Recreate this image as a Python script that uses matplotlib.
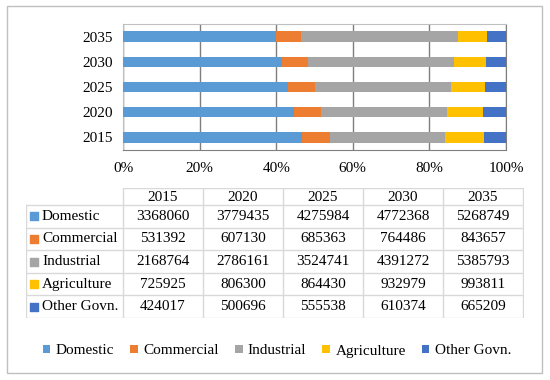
import matplotlib
matplotlib.use("Agg")
import matplotlib.pyplot as plt
import numpy as np

plt.rcParams['font.family'] = ['Liberation Serif', 'DejaVu Serif']

years = ['2015', '2020', '2025', '2030', '2035']
categories = ['Domestic', 'Commercial', 'Industrial', 'Agriculture', 'Other Govn.']
domestic = [3368060, 3779435, 4275984, 4772368, 5268749]
commercial = [531392, 607130, 685363, 764486, 843657]
industrial = [2168764, 2786161, 3524741, 4391272, 5385793]
agriculture = [725925, 806300, 864430, 932979, 993811]
other_govn = [424017, 500696, 555538, 610374, 665209]
colors = ['#5B9BD5', '#ED7D31', '#A5A5A5', '#FFC000', '#4472C4']

series = [domestic, commercial, industrial, agriculture, other_govn]
values = np.array(series, dtype=float)
shares = values / values.sum(axis=0)

W, H = 550, 380
fig = plt.figure(figsize=(5.5, 3.8), dpi=100)

# outer chart border
fig.patches.append(plt.Rectangle((7 / W, 1 - 373 / H), 535 / W, 367 / H,
                                 transform=fig.transFigure, fill=False,
                                 edgecolor='#BFBFBF', linewidth=1.0))

# bar chart
ax = fig.add_axes([123 / W, 1 - 150 / H, 383 / W, 126 / H])
y = np.arange(len(years))
left = np.zeros(len(years))
for cat, s, c in zip(categories, shares, colors):
    ax.barh(y, s, left=left, height=0.42, color=c, label=cat, zorder=3)
    left += s
ax.set_xlim(0, 1)
ax.set_ylim(-0.5, len(years) - 0.5)
ax.set_yticks(y)
ax.set_yticklabels(years, fontsize=11)
ax.set_xticks(np.linspace(0, 1, 6))
ax.set_xticklabels(['0%', '20%', '40%', '60%', '80%', '100%'], fontsize=11)
ax.tick_params(length=0, pad=7)
ax.tick_params(axis='x', pad=9)
ax.xaxis.grid(True, color='#7F7F7F', linewidth=1.0, zorder=0)
for side in ['left', 'top']:
    ax.spines[side].set_color('#BFBFBF')
for side in ['right', 'bottom']:
    ax.spines[side].set_color('#7F7F7F')

# data table
tab = fig.add_axes([26 / W, 1 - 318 / H, 498 / W, 130 / H])
tab.set_xlim(0, 498)
tab.set_ylim(130, 0)
tab.axis('off')
label_w = 97
col_w = 80
head_h = 17
row_h = 22.6
line_c = '#D9D9D9'

# header
for j, yr in enumerate(years):
    x0 = label_w + j * col_w
    tab.text(x0 + col_w / 2, head_h / 2 + 1, yr, ha='center', va='center', fontsize=11)
# grid lines
tab.plot([label_w, 498], [0, 0], color=line_c, lw=1)
for i in range(len(categories) + 1):
    yy = head_h + i * row_h
    tab.plot([0, 498], [yy, yy], color=line_c, lw=1)
tab.plot([0, 0], [head_h, 130], color=line_c, lw=1)
for j in range(len(years) + 1):
    xx = label_w + j * col_w
    tab.plot([xx, xx], [0, 130], color=line_c, lw=1)
# rows
for i, (cat, s, c) in enumerate(zip(categories, series, colors)):
    yc = head_h + (i + 0.5) * row_h
    tab.scatter([8], [yc], marker='s', s=30, color=c, clip_on=False)
    tab.text(16, yc, cat, ha='left', va='center', fontsize=11)
    for j, v in enumerate(s):
        tab.text(label_w + (j + 0.5) * col_w, yc, str(v), ha='center', va='center', fontsize=11)

# legend
handles, labels = ax.get_legend_handles_labels()
fig.legend(handles, labels, loc='center', bbox_to_anchor=(277 / W, 1 - 351 / H),
           ncol=5, frameon=False, fontsize=11, handlelength=0.5, handleheight=0.5,
           handletextpad=0.35, columnspacing=1.05)

fig.savefig('out.png', dpi=100)
